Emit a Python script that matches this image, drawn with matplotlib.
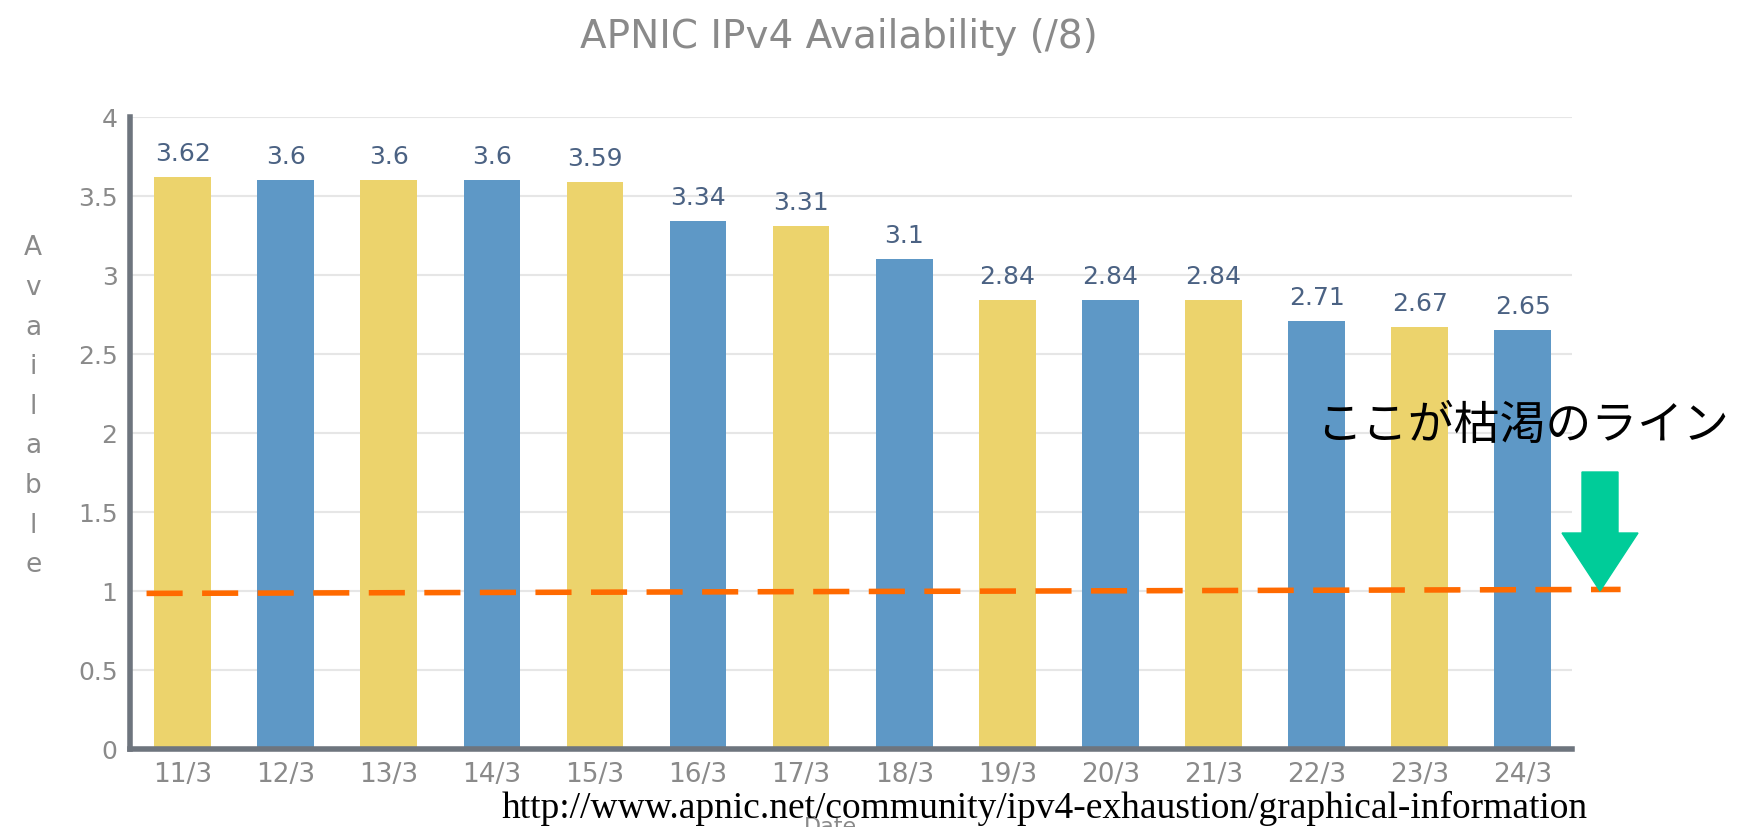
import matplotlib.pyplot as plt
from matplotlib.patches import FancyArrow

# data
dates = ["11/3", "12/3", "13/3", "14/3", "15/3", "16/3", "17/3",
         "18/3", "19/3", "20/3", "21/3", "22/3", "23/3", "24/3"]
available = [3.62, 3.6, 3.6, 3.6, 3.59, 3.34, 3.31,
             3.1, 2.84, 2.84, 2.84, 2.71, 2.67, 2.65]
value_labels = ["3.62", "3.6", "3.6", "3.6", "3.59", "3.34", "3.31",
                "3.1", "2.84", "2.84", "2.84", "2.71", "2.67", "2.65"]
y_ticks = [0, 0.5, 1, 1.5, 2, 2.5, 3, 3.5, 4]
y_ticklabels = ["0", "0.5", "1", "1.5", "2", "2.5", "3", "3.5", "4"]
# hand-drawn "exhaustion line" (slightly tilted in the original)
line_x = [-0.35, 13.95]
line_y = [0.985, 1.01]

YELLOW = "#ECD36C"
BLUE = "#5E98C6"
GRAY_TXT = "#8A8A8A"
SPINE = "#6E757E"

fig = plt.figure(figsize=(17.48, 8.27), dpi=100)
ax = fig.add_axes([0.0744, 0.0943, 0.825, 0.7642])

colors = [YELLOW if i % 2 == 0 else BLUE for i in range(len(dates))]
xs = list(range(len(dates)))
ax.bar(xs, available, width=0.55, color=colors, zorder=2)

for x, v, lab in zip(xs, available, value_labels):
    ax.annotate(lab, (x, v), xytext=(0, 8), textcoords="offset points",
                ha="center", va="bottom", fontsize=18, color="#4B6283")

ax.set_xlim(-0.51, 13.48)
ax.set_ylim(0, 4)
ax.set_xticks(xs)
ax.set_xticklabels(dates, fontsize=19, color=GRAY_TXT)
ax.set_yticks(y_ticks)
ax.set_yticklabels(y_ticklabels, fontsize=18, color=GRAY_TXT)
ax.tick_params(length=0, pad=9)
ax.grid(axis="y", color="#E6E6E6", linewidth=1.5, zorder=0)
ax.set_axisbelow(True)

for s in ["top", "right"]:
    ax.spines[s].set_visible(False)
for s in ["left", "bottom"]:
    ax.spines[s].set_color(SPINE)
    ax.spines[s].set_linewidth(4)

# orange dashed exhaustion line
ax.plot(line_x, line_y, color="#FF6A00", linewidth=4, linestyle=(0, (6.5, 3.5)),
        clip_on=False, zorder=3)

# title and stacked y label
fig.text(0.48, 0.955, "APNIC IPv4 Availability (/8)", ha="center", va="center",
         fontsize=28, color=GRAY_TXT)
fig.text(0.019, 0.508, "\n".join("Available"), ha="center", va="center",
         fontsize=19, color=GRAY_TXT, linespacing=1.68)
fig.text(0.475, 0.0, "Date", ha="center", va="center", fontsize=16, color=GRAY_TXT)

# source URL
fig.text(0.5976, 0.023, "http://www.apnic.net/community/ipv4-exhaustion/graphical-information",
         ha="center", va="center", fontsize=27, family="Liberation Serif", color="black")

# Japanese annotation and green arrow
fig.text(0.871, 0.485, "ここが枯渇のライン", ha="center", va="center", fontsize=33,
         family=["Noto Sans CJK JP", "DejaVu Sans"], color="black")
arrow = FancyArrow(16.00, 8.27 - 4.72, 0, -1.19, width=0.36, head_width=0.76,
                   head_length=0.58, length_includes_head=True,
                   color="#00CC99", transform=fig.dpi_scale_trans)
fig.patches.append(arrow)

fig.savefig("out.png", dpi=100)
